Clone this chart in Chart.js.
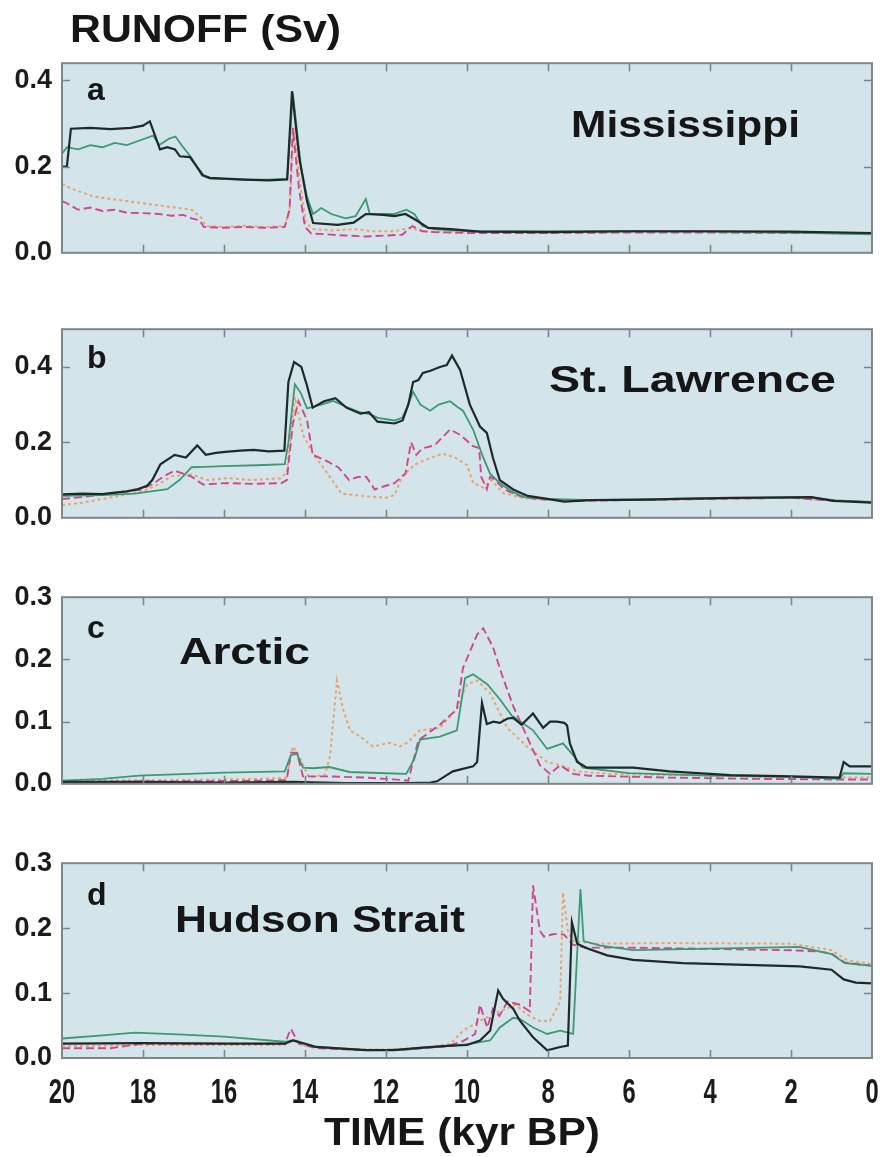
<!DOCTYPE html>
<html>
<head>
<meta charset="utf-8">
<script src="https://cdn.jsdelivr.net/npm/chart.js@4.4.1/dist/chart.umd.min.js"></script>
<style>
    html, body { margin: 0; padding: 0; background: #fff; }
    #page { position: relative; width: 882px; height: 1157px; overflow: hidden; }
    #page canvas { position: absolute; left: 0; }
    .txt {
        position: absolute; white-space: nowrap; line-height: 1;
        font-family: "Liberation Sans", Arial, sans-serif; font-weight: bold;
        color: #161616; transform-origin: 0 0;
    }
</style>
</head>
<body>
<div id="page"></div>
<script>
// --- DATI: [tempo (kyr BP), runoff (Sv)] ---
const xTickStep = 2;

// a) Mississippi
const missBlack = [[20,0.20],[19.88,0.20],[19.78,0.288],[19.3,0.29],[18.8,0.287],[18.3,0.29],[18.0,0.295],[17.83,0.305],[17.58,0.24],[17.4,0.245],[17.21,0.24],[17.09,0.224],[16.84,0.222],[16.52,0.18],[16.35,0.174],[15.5,0.17],[14.9,0.168],[14.44,0.17],[14.32,0.375],[14.14,0.22],[13.95,0.12],[13.8,0.069],[13.2,0.065],[12.8,0.07],[12.5,0.09],[12.07,0.088],[11.79,0.085],[11.52,0.09],[11.24,0.075],[10.96,0.058],[10.4,0.055],[9.7,0.049],[8,0.048],[6,0.05],[4,0.05],[2,0.049],[0,0.046]];
const missGreen = [[20,0.23],[19.88,0.245],[19.6,0.24],[19.3,0.25],[19.0,0.245],[18.7,0.255],[18.4,0.25],[18.1,0.26],[17.75,0.272],[17.6,0.25],[17.35,0.265],[17.2,0.27],[17.05,0.25],[16.8,0.22],[16.55,0.18],[16.35,0.172],[15.5,0.17],[14.9,0.17],[14.44,0.172],[14.3,0.37],[14.1,0.2],[13.95,0.13],[13.8,0.09],[13.6,0.104],[13.35,0.09],[13.0,0.08],[12.75,0.085],[12.5,0.125],[12.4,0.09],[12.1,0.09],[11.8,0.09],[11.5,0.1],[11.3,0.09],[11.1,0.062],[10.8,0.055],[10.4,0.052],[9.7,0.05],[8,0.05],[6,0.05],[4,0.049],[2,0.047],[0,0.043]];
const missMagenta = [[20,0.12],[19.88,0.115],[19.6,0.10],[19.3,0.105],[19.0,0.097],[18.7,0.10],[18.4,0.093],[18.0,0.092],[17.6,0.09],[17.3,0.086],[17.0,0.088],[16.8,0.08],[16.6,0.075],[16.5,0.06],[16.0,0.058],[15.5,0.06],[15.0,0.058],[14.5,0.06],[14.38,0.1],[14.3,0.29],[14.15,0.15],[14.0,0.06],[13.85,0.045],[13.5,0.043],[13.0,0.04],[12.5,0.038],[12.0,0.04],[11.6,0.042],[11.35,0.062],[11.1,0.05],[10.8,0.048],[10,0.046],[8,0.046],[6,0.047],[4,0.047],[2,0.046],[0,0.045]];
const missOrange = [[20,0.16],[19.8,0.15],[19.5,0.14],[19.2,0.13],[18.8,0.125],[18.4,0.12],[18.0,0.115],[17.6,0.11],[17.2,0.105],[16.8,0.1],[16.55,0.08],[16.45,0.062],[16.0,0.06],[15.5,0.063],[15.0,0.06],[14.5,0.062],[14.38,0.1],[14.28,0.29],[14.12,0.16],[13.98,0.07],[13.8,0.055],[13.3,0.052],[12.8,0.055],[12.3,0.05],[11.8,0.05],[11.4,0.058],[11.1,0.05],[10.5,0.048],[8,0.047],[6,0.048],[4,0.048],[2,0.047],[0,0.045]];

// b) St. Lawrence
const stlBlack = [[20,0.062],[19.5,0.064],[19,0.063],[18.75,0.066],[18.4,0.07],[18.12,0.076],[17.9,0.085],[17.77,0.10],[17.57,0.142],[17.22,0.167],[16.94,0.16],[16.66,0.192],[16.45,0.167],[16.2,0.172],[15.97,0.175],[15.6,0.178],[15.27,0.18],[14.9,0.176],[14.51,0.178],[14.41,0.36],[14.27,0.413],[14.09,0.40],[13.95,0.35],[13.81,0.292],[13.53,0.309],[13.25,0.317],[12.98,0.292],[12.63,0.276],[12.42,0.28],[12.21,0.255],[11.79,0.25],[11.59,0.258],[11.45,0.30],[11.33,0.36],[11.2,0.365],[11.09,0.384],[10.9,0.39],[10.67,0.40],[10.5,0.405],[10.37,0.43],[10.17,0.392],[9.93,0.30],[9.68,0.242],[9.51,0.225],[9.36,0.159],[9.19,0.10],[8.86,0.075],[8.5,0.058],[8.02,0.05],[7.6,0.043],[6.93,0.047],[5.5,0.048],[4.84,0.05],[3.45,0.053],[1.5,0.055],[0.95,0.045],[0,0.04]];
const stlGreen = [[20,0.058],[19,0.06],[18.2,0.064],[17.4,0.076],[17.1,0.10],[16.8,0.134],[16.5,0.135],[16.0,0.137],[15.0,0.14],[14.5,0.142],[14.41,0.2],[14.25,0.354],[14.1,0.33],[13.95,0.29],[13.6,0.30],[13.3,0.31],[13.0,0.295],[12.65,0.28],[12.4,0.275],[12.2,0.265],[11.8,0.258],[11.6,0.265],[11.45,0.30],[11.33,0.334],[11.15,0.30],[10.91,0.284],[10.7,0.30],[10.42,0.309],[10.25,0.295],[10.1,0.284],[9.85,0.234],[9.6,0.16],[9.43,0.117],[9.19,0.092],[8.9,0.07],[8.6,0.055],[8.0,0.05],[7,0.047],[5,0.05],[3.5,0.052],[1.5,0.054],[0.9,0.046],[0,0.042]];
const stlMagenta = [[20,0.05],[19.5,0.055],[19,0.062],[18.5,0.068],[18.05,0.075],[17.75,0.09],[17.5,0.109],[17.22,0.125],[16.8,0.109],[16.52,0.088],[15.97,0.092],[15.3,0.09],[14.58,0.092],[14.45,0.1],[14.3,0.25],[14.16,0.309],[13.95,0.259],[13.81,0.167],[13.46,0.15],[13.18,0.134],[12.91,0.10],[12.7,0.108],[12.49,0.109],[12.28,0.075],[12.0,0.085],[11.79,0.092],[11.52,0.117],[11.38,0.20],[11.25,0.167],[11.1,0.184],[10.8,0.192],[10.42,0.234],[10.17,0.22],[9.85,0.19],[9.7,0.185],[9.65,0.109],[9.51,0.076],[9.43,0.109],[9.3,0.1],[9.08,0.075],[8.73,0.059],[8.3,0.05],[7.5,0.045],[6,0.047],[4,0.05],[2,0.053],[1,0.046],[0,0.041]];
const stlOrange = [[20,0.034],[19.5,0.04],[19,0.05],[18.5,0.06],[18.0,0.07],[17.6,0.09],[17.3,0.11],[16.8,0.115],[16.4,0.10],[15.9,0.105],[15.3,0.10],[14.6,0.105],[14.45,0.12],[14.25,0.32],[14.05,0.22],[13.8,0.17],[13.46,0.12],[13.1,0.064],[12.5,0.057],[12.0,0.053],[11.79,0.06],[11.6,0.11],[11.3,0.14],[11.0,0.155],[10.6,0.17],[10.3,0.16],[10.0,0.14],[9.85,0.093],[9.6,0.08],[9.4,0.1],[9.1,0.065],[8.6,0.052],[8,0.048],[6,0.047],[4,0.05],[2,0.053],[1,0.046],[0,0.041]];

// c) Arctic
const arcBlack = [[20,0.003],[18,0.003],[16,0.002],[14.3,0.003],[13,0.001],[11.5,0.001],[10.9,0.002],[10.74,0.004],[10.5,0.014],[10.35,0.02],[9.85,0.028],[9.75,0.035],[9.63,0.13],[9.51,0.096],[9.35,0.1],[9.19,0.098],[9.0,0.105],[8.86,0.106],[8.65,0.095],[8.37,0.113],[8.12,0.09],[7.95,0.1],[7.78,0.10],[7.6,0.098],[7.53,0.094],[7.46,0.065],[7.28,0.035],[7.04,0.026],[6.3,0.026],[5.9,0.026],[5,0.02],[3.5,0.014],[2,0.012],[0.8,0.01],[0.7,0.035],[0.55,0.028],[0,0.028]];
const arcGreen = [[20,0.005],[19,0.008],[18.1,0.013],[16,0.018],[14.5,0.02],[14.35,0.046],[14.2,0.048],[14.05,0.026],[13.8,0.025],[13.4,0.027],[12.9,0.019],[12,0.017],[11.5,0.016],[11.3,0.04],[11.16,0.071],[10.67,0.076],[10.25,0.086],[10.05,0.17],[9.85,0.176],[9.5,0.16],[9.19,0.136],[8.9,0.11],[8.37,0.086],[8.02,0.056],[7.63,0.065],[7.38,0.046],[7.14,0.026],[6,0.017],[4,0.013],[2,0.011],[0.8,0.008],[0.7,0.017],[0,0.016]];
const arcMagenta = [[20,0.003],[17,0.004],[15,0.005],[14.45,0.006],[14.35,0.05],[14.2,0.05],[14.05,0.012],[13.5,0.012],[12.5,0.01],[11.6,0.006],[11.45,0.005],[11.2,0.07],[10.67,0.095],[10.25,0.12],[10.1,0.186],[9.75,0.24],[9.6,0.25],[9.36,0.22],[9.11,0.17],[8.86,0.125],[8.52,0.076],[8.2,0.03],[7.95,0.016],[7.7,0.03],[7.38,0.016],[7,0.013],[5,0.01],[3,0.008],[1,0.007],[0,0.007]];
const arcOrange = [[20,0.005],[17,0.006],[15,0.008],[14.45,0.01],[14.3,0.06],[14.15,0.045],[13.9,0.01],[13.5,0.015],[13.38,0.046],[13.21,0.166],[13.06,0.12],[12.89,0.086],[12.64,0.076],[12.32,0.06],[11.9,0.066],[11.65,0.06],[11.48,0.066],[11.16,0.086],[10.67,0.09],[10.25,0.12],[10.0,0.16],[9.75,0.166],[9.43,0.146],[9.01,0.09],[8.52,0.06],[8.02,0.035],[7.7,0.03],[7.28,0.02],[6.5,0.016],[4,0.013],[2,0.01],[0,0.01]];

// d) Hudson Strait
const hudBlack = [[20,0.022],[18,0.023],[16,0.022],[14.5,0.022],[14.3,0.027],[14.0,0.022],[13.74,0.017],[12.5,0.012],[11.8,0.012],[11.1,0.016],[10.4,0.019],[10.0,0.02],[9.68,0.027],[9.43,0.042],[9.23,0.104],[9.11,0.091],[8.86,0.076],[8.69,0.057],[8.37,0.032],[8.02,0.012],[7.7,0.017],[7.51,0.019],[7.41,0.209],[7.28,0.176],[7.04,0.169],[6.54,0.158],[5.9,0.151],[4.67,0.146],[1.78,0.141],[1.0,0.136],[0.7,0.121],[0.4,0.116],[0,0.115]];
const hudGreen = [[20,0.03],[19,0.035],[18.2,0.039],[17,0.036],[16,0.033],[14.5,0.025],[14.3,0.027],[14,0.022],[13.7,0.017],[12.5,0.012],[11.8,0.012],[11.1,0.016],[10.3,0.019],[9.9,0.022],[9.43,0.027],[9.19,0.047],[8.86,0.062],[8.69,0.06],[8.37,0.047],[8.02,0.037],[7.7,0.042],[7.38,0.037],[7.2,0.26],[7.12,0.18],[6.7,0.173],[5.9,0.166],[4.3,0.168],[1.8,0.171],[1.0,0.16],[0.67,0.146],[0,0.142]];
const hudMagenta = [[20,0.015],[18.8,0.015],[18.05,0.022],[16,0.022],[14.5,0.022],[14.35,0.045],[14.15,0.022],[13.7,0.015],[12.5,0.012],[11.5,0.013],[10.5,0.018],[10.1,0.026],[9.8,0.037],[9.68,0.082],[9.5,0.047],[9.36,0.076],[9.2,0.065],[9.0,0.087],[8.69,0.082],[8.45,0.072],[8.37,0.266],[8.2,0.196],[8.1,0.187],[7.85,0.191],[7.6,0.19],[7.4,0.175],[7.1,0.17],[6,0.17],[4,0.168],[2,0.166],[1.3,0.164],[1.0,0.161],[0.67,0.147],[0,0.142]];
const hudOrange = [[20,0.018],[18,0.02],[16,0.02],[14.5,0.02],[14.3,0.03],[14.1,0.02],[13.5,0.015],[12,0.013],[11,0.016],[10.4,0.022],[10.1,0.042],[9.6,0.06],[9.19,0.072],[8.8,0.082],[8.52,0.067],[8.2,0.057],[7.95,0.057],[7.7,0.087],[7.63,0.255],[7.51,0.196],[7.38,0.18],[6.8,0.176],[5,0.177],[2,0.176],[1.0,0.166],[0.6,0.15],[0,0.145]];

// --- STILE ---
const colBlack = '#1e2a2a';
const colGreen = '#3a9a72';
const colMagenta = '#d2458f';
const colOrange = '#eba466';
const bgPlot = 'rgb(212,228,235)';
const frameCol = '#7d878b';
const tickFont = '"Liberation Sans", Arial, sans-serif';

const page = document.getElementById('page');

// pannelli: box del grafico (top/bottom in px) + testi
const panels = [
    { black: missBlack, green: missGreen, magenta: missMagenta, orange: missOrange, ymax: 0.44, step: 0.2,
      boxTop: 57, boxBottom: 259, letter: 'a', letterBase: 100, name: 'Mississippi', nameX: 571, nameBase: 137, nameW: 229 },
    { black: stlBlack, green: stlGreen, magenta: stlMagenta, orange: stlOrange, ymax: 0.5, step: 0.2,
      boxTop: 323, boxBottom: 524, letter: 'b', letterBase: 368, name: 'St. Lawrence', nameX: 549, nameBase: 392, nameW: 287 },
    { black: arcBlack, green: arcGreen, magenta: arcMagenta, orange: arcOrange, ymax: 0.3, step: 0.1,
      boxTop: 591, boxBottom: 790, letter: 'c', letterBase: 638, name: 'Arctic', nameX: 179, nameBase: 664, nameW: 131 },
    { black: hudBlack, green: hudGreen, magenta: hudMagenta, orange: hudOrange, ymax: 0.3, step: 0.1,
      boxTop: 857, boxBottom: 1058, letter: 'd', letterBase: 905, name: 'Hudson Strait', nameX: 175, nameBase: 932, nameW: 290, showX: true }
];

// sfondo, cornice, tacche interne ed etichette dell'asse del tempo
const framePlugin = {
    id: 'frame',
    beforeDatasetsDraw(chart) {
        const a = chart.chartArea, c = chart.ctx;
        c.save();
        c.fillStyle = bgPlot;
        c.fillRect(a.left, a.top, a.right - a.left, a.bottom - a.top);
        c.restore();
    },
    afterDatasetsDraw(chart, args, opts) {
        const a = chart.chartArea, c = chart.ctx;
        const sx = chart.scales.x, sy = chart.scales.y;
        const len = 8;
        c.save();
        c.strokeStyle = frameCol;
        c.lineWidth = 1.6;
        c.beginPath();
        sx.ticks.forEach(t => {
            if (t.value <= sx.min || t.value >= sx.max) return;
            const px = Math.round(sx.getPixelForValue(t.value)) + 0.5;
            c.moveTo(px, a.top); c.lineTo(px, a.top + len);
            c.moveTo(px, a.bottom); c.lineTo(px, a.bottom - len);
        });
        sy.ticks.forEach(t => {
            if (t.value <= sy.min || t.value >= sy.max - 1e-9) return;
            const py = Math.round(sy.getPixelForValue(t.value)) + 0.5;
            c.moveTo(a.left, py); c.lineTo(a.left + len, py);
            c.moveTo(a.right, py); c.lineTo(a.right - len, py);
        });
        c.stroke();
        c.lineWidth = 2;
        c.strokeRect(a.left, a.top, a.right - a.left, a.bottom - a.top);

        // etichette del tempo, strette come nell'originale
        if (opts.xLabels) {
            c.fillStyle = '#1b1b1b';
            c.font = 'bold 35px ' + tickFont;
            c.textAlign = 'center';
            c.textBaseline = 'alphabetic';
            sx.ticks.forEach(t => {
                const px = sx.getPixelForValue(t.value);
                c.save();
                c.translate(px, a.bottom + 45);
                c.scale(0.68, 1);
                c.fillText(String(t.value), 0, 0);
                c.restore();
            });
        }
        c.restore();
    }
};

function serie(data, color, dash, width) {
    return { data, borderColor: color, borderWidth: width, borderDash: dash,
             pointRadius: 0, tension: 0, fill: false };
}

function makePanel(p) {
    const cv = document.createElement('canvas');
    const bottomPad = p.showX ? 70 : 20;
    const top = p.boxTop - 20;
    const h = p.boxBottom - p.boxTop + 20 + bottomPad;
    cv.width = 882; cv.height = h;
    cv.style.top = top + 'px';
    page.appendChild(cv);

    new Chart(cv, {
        type: 'line',
        data: {
            datasets: [
                serie(p.black, colBlack, [], 2.2),
                serie(p.green, colGreen, [], 1.8),
                serie(p.magenta, colMagenta, [8, 4], 1.9),
                serie(p.orange, colOrange, [3, 3], 2)
            ]
        },
        options: {
            responsive: false,
            animation: false,
            events: [],
            layout: { autoPadding: false, padding: { top: 20, bottom: bottomPad, left: 0, right: 10 } },
            plugins: { legend: { display: false }, tooltip: { enabled: false }, frame: { xLabels: !!p.showX } },
            scales: {
                x: {
                    type: 'linear', min: 0, max: 20, reverse: true,
                    display: false,
                    ticks: { stepSize: xTickStep }
                },
                y: {
                    min: 0, max: p.ymax,
                    grid: { display: false, drawTicks: false, tickLength: 0 },
                    border: { display: false },
                    ticks: {
                        stepSize: p.step, includeBounds: false, padding: 10,
                        color: '#1b1b1b', font: { family: tickFont, size: 27, weight: 'bold' },
                        callback: v => Number(v).toFixed(1)
                    },
                    afterFit: s => { s.width = 62; }
                }
            }
        },
        plugins: [framePlugin]
    });
}

// testo vero in HTML, allineato sulla linea di base
function addText(str, left, baseline, size, width) {
    const el = document.createElement('div');
    el.className = 'txt';
    el.textContent = str;
    el.style.fontSize = size + 'px';
    el.style.left = left + 'px';
    el.style.top = (baseline - 0.8465 * size) + 'px';
    page.appendChild(el);
    if (width) {
        const w = el.getBoundingClientRect().width;
        el.style.transform = 'scaleX(' + (width / w).toFixed(3) + ')';
    }
}

panels.forEach(p => {
    makePanel(p);
    addText(p.letter, 87, p.letterBase, 32);
    addText(p.name, p.nameX, p.nameBase, 36, p.nameW);
});
addText('RUNOFF (Sv)', 70, 42, 38, 271);
addText('TIME (kyr BP)', 324, 1145, 38, 276);
</script>
</body>
</html>
